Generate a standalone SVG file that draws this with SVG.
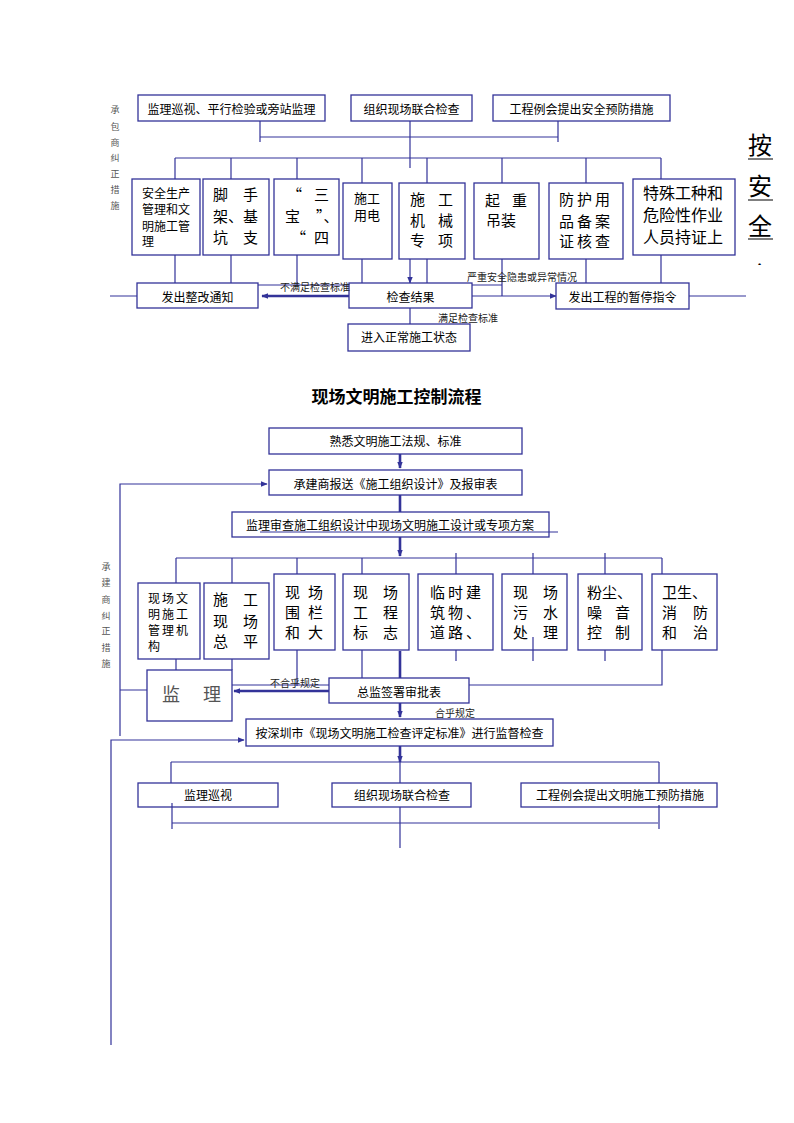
<svg xmlns="http://www.w3.org/2000/svg" width="794" height="1123" viewBox="0 0 794 1123">
<style>
.b{fill:#fff;stroke:#333399;stroke-width:1.3}
.l{stroke:#333399;stroke-width:1.2;fill:none}
.k{stroke:#333399;stroke-width:2.6;fill:none}
text{font-family:"Noto Sans CJK SC","Noto Sans CJK JP",sans-serif;fill:#000}
.c12{font-size:12px;text-anchor:middle}
.s12{font-size:12px}
.s13{font-size:13px}
.s15{font-size:15px}
.s16{font-size:16px}
.lab{font-size:10px;fill:#222}
.v{font-size:9px;fill:#555;text-anchor:middle}
</style>
<defs>
<marker id="a" viewBox="0 0 10 10" refX="9" refY="5" markerWidth="7" markerHeight="7" markerUnits="userSpaceOnUse" orient="auto"><path d="M0,1L10,5L0,9z" fill="#333399"/></marker>
<clipPath id="cr"><rect x="740" y="120" width="50" height="145"/></clipPath>
</defs>

<rect width="794" height="1123" fill="#fff"/>

<!-- ===== Section 1 connectors ===== -->
<g id="connectors1">
<path class="l" d="M260,121V142M558,121V142M260,137H558M410,121V168"/>
<path class="l" d="M175,158H661M175,158V179M231,158V179M297,158V179M362,158V183M427,158V183M502,158V183M586,158V183M661,158V179"/>
<path class="l" d="M175,255V283M231,255V283M297,255V285M362,259V283M427,259V283M502,259V296M586,259V283M661,255V283"/>
<path class="l" d="M410,259V283" marker-end="url(#a)"/>
<path class="l" d="M110,296H137M258,285H349M472,285H502M689,296H746M410,308V324"/>
<path class="k" d="M349,296H262" marker-end="url(#a)"/>
<path class="l" d="M472,296H556" marker-end="url(#a)"/>
</g>

<g id="sideNote1">
<text class="v"><tspan x="115" y="113">承</tspan><tspan x="115" y="130">包</tspan><tspan x="115" y="146">商</tspan><tspan x="115" y="161">纠</tspan><tspan x="115" y="177">正</tspan><tspan x="115" y="193">措</tspan><tspan x="115" y="209">施</tspan></text>
</g>

<g id="n_xunshi"><rect class="b" x="138" y="95" width="187" height="26"/><text class="c12" x="231.5" y="114">监理巡视、平行检验或旁站监理</text></g>
<g id="n_lianhe1"><rect class="b" x="351" y="95" width="121" height="26"/><text class="c12" x="411.5" y="114">组织现场联合检查</text></g>
<g id="n_lihui1"><rect class="b" x="493" y="95" width="177" height="26"/><text class="c12" x="581.5" y="114">工程例会提出安全预防措施</text></g>

<g id="n_aq"><rect class="b" x="132" y="179" width="68" height="76"/>
<text class="s12"><tspan x="142" y="198">安全生产</tspan><tspan x="142" y="214">管理和文</tspan><tspan x="142" y="231">明施工管</tspan><tspan x="142" y="246">理</tspan></text></g>

<g id="n_jsj"><rect class="b" x="203" y="179" width="66" height="76"/>
<text class="s15"><tspan x="213" y="199.5">脚</tspan><tspan x="243" y="199.5">手</tspan><tspan x="213" y="221.5">架</tspan><tspan x="228" y="221.5">、</tspan><tspan x="243" y="221.5">基</tspan><tspan x="213" y="242.5">坑</tspan><tspan x="243" y="242.5">支</tspan></text></g>

<g id="n_sanbao"><rect class="b" x="274" y="179" width="65" height="76"/>
<text class="s15"><tspan x="287" y="199.5">“</tspan><tspan x="314" y="199.5">三</tspan><tspan x="285" y="221.5">宝</tspan><tspan x="316" y="221.5">”、</tspan><tspan x="291" y="242.5">“</tspan><tspan x="314" y="242.5">四</tspan></text></g>

<g id="n_yongdian"><rect class="b" x="343" y="183" width="49" height="76"/>
<text class="s13"><tspan x="354" y="202.5">施工</tspan><tspan x="354" y="219.5">用电</tspan></text></g>

<g id="n_jixie"><rect class="b" x="399" y="183" width="66" height="76"/>
<text class="s15"><tspan x="410" y="205">施</tspan><tspan x="438" y="205">工</tspan><tspan x="410" y="225.5">机</tspan><tspan x="438" y="225.5">械</tspan><tspan x="410" y="246">专</tspan><tspan x="438" y="246">项</tspan></text></g>

<g id="n_diaozhuang"><rect class="b" x="474" y="183" width="65" height="76"/>
<text class="s15"><tspan x="485" y="206">起</tspan><tspan x="512" y="206">重</tspan><tspan x="486" y="226">吊装</tspan></text></g>

<g id="n_fanghu"><rect class="b" x="549" y="183" width="74" height="76"/>
<text class="s15" letter-spacing="3"><tspan x="559" y="204.5">防护用</tspan><tspan x="559" y="226.5">品备案</tspan><tspan x="559" y="246.5">证核查</tspan></text></g>

<g id="n_tezhong"><rect class="b" x="633" y="179" width="102" height="76"/>
<text class="s16"><tspan x="643" y="199">特殊工种和</tspan><tspan x="643" y="221">危险性作业</tspan><tspan x="643" y="243">人员持证上</tspan></text></g>

<g id="sideTitle" clip-path="url(#cr)">
<text style="font-size:24px"><tspan x="748" y="154">按</tspan><tspan x="748" y="195">安</tspan><tspan x="748" y="235">全</tspan><tspan x="748" y="284">文</tspan></text>
<path d="M748,159H773M748,200H773M748,239H773" stroke="#000" stroke-width="1"/>
</g>

<g id="n_zhenggai"><rect class="b" x="137" y="283" width="121" height="25"/><text class="c12" x="197.5" y="302">发出整改通知</text></g>
<g id="n_jieguo"><rect class="b" x="349" y="283" width="123" height="25"/><text class="c12" x="410.5" y="302">检查结果</text></g>
<g id="n_zhengchang"><rect class="b" x="348" y="324" width="122" height="27"/><text class="c12" x="409" y="342">进入正常施工状态</text></g>
<g id="n_zanting"><rect class="b" x="556" y="283" width="133" height="26"/><text class="c12" x="622.5" y="302">发出工程的暂停指令</text></g>

<g id="labels1">
<text class="lab" x="280" y="291">不满足检查标准</text>
<text class="lab" x="438" y="322">满足检查标准</text>
<text class="lab" x="467" y="281">严重安全隐患或异常情况</text>
</g>

<!-- ===== Section 2 ===== -->
<text id="title2" x="396.5" y="403" style="font-size:17px;font-weight:bold;text-anchor:middle">现场文明施工控制流程</text>

<g id="connectors2">
<path class="k" d="M400,454V468" marker-end="url(#a)"/>
<path class="l" d="M120,736V484H267" marker-end="url(#a)"/>
<path class="k" d="M400,495V512"/>
<path class="k" d="M400,537V556" marker-end="url(#a)"/>
<path class="l" d="M176,558H662M176,558V583M232,558V583M297,558V574M362,558V574M456,553V574M533,553V574M605,553V574M662,558V574"/>
<path class="l" d="M176,659V670M232,659V670M297,650V686M362,650V678M456,650V661M533,650V661M605,650V661M662,650V685H469M232,685H329M120,690H147"/>
<path class="k" d="M400,651V678M329,691H234" marker-end="url(#a)"/>
<path class="k" d="M400,703V717" marker-end="url(#a)"/>
<path class="l" d="M111,1045V740H244" marker-end="url(#a)"/>
<path class="k" d="M400,746V762" marker-end="url(#a)"/>
<path class="l" d="M171,762H659M171,762V783M400,762V783M659,762V783"/>
<path class="l" d="M172,807V829M400,807V848M659,807V829M172,823H658"/>
</g>

<g id="sideNote2">
<text class="v"><tspan x="106" y="570">承</tspan><tspan x="106" y="586">建</tspan><tspan x="106" y="603">商</tspan><tspan x="106" y="619">纠</tspan><tspan x="106" y="634">正</tspan><tspan x="106" y="651">措</tspan><tspan x="106" y="667">施</tspan></text>
</g>

<g id="n_shuxi"><rect class="b" x="269" y="428" width="253" height="26"/><text class="c12" x="395.5" y="446">熟悉文明施工法规、标准</text></g>
<g id="n_baosong"><rect class="b" x="269" y="470" width="253" height="25"/><text class="c12" x="395.5" y="489">承建商报送《施工组织设计》及报审表</text></g>
<g id="n_shencha"><rect class="b" x="232" y="512" width="317" height="25"/><text class="c12" x="390" y="530">监理审查施工组织设计中现场文明施工设计或专项方案</text></g>
<path class="l" d="M260,532H558"/>

<g id="m_jigou"><rect class="b" x="138" y="583" width="62" height="76"/>
<text class="s12" letter-spacing="2"><tspan x="148" y="603">现场文</tspan><tspan x="148" y="619">明施工</tspan><tspan x="148" y="635">管理机</tspan><tspan x="148" y="651">构</tspan></text></g>

<g id="m_zongping"><rect class="b" x="204" y="583" width="65" height="76"/>
<text class="s15"><tspan x="213" y="604.5">施</tspan><tspan x="243" y="604.5">工</tspan><tspan x="213" y="626.5">现</tspan><tspan x="243" y="626.5">场</tspan><tspan x="213" y="646.5">总</tspan><tspan x="243" y="646.5">平</tspan></text></g>

<g id="m_weilan"><rect class="b" x="274" y="574" width="61" height="76"/>
<text class="s15"><tspan x="285" y="597.5">现</tspan><tspan x="308" y="597.5">场</tspan><tspan x="285" y="617.5">围</tspan><tspan x="308" y="617.5">栏</tspan><tspan x="285" y="637.5">和</tspan><tspan x="308" y="637.5">大</tspan></text></g>

<g id="m_biaozhi"><rect class="b" x="343" y="574" width="66" height="76"/>
<text class="s15"><tspan x="353" y="597.5">现</tspan><tspan x="383" y="597.5">场</tspan><tspan x="353" y="617.5">工</tspan><tspan x="383" y="617.5">程</tspan><tspan x="353" y="637.5">标</tspan><tspan x="383" y="637.5">志</tspan></text></g>

<g id="m_linshi"><rect class="b" x="418" y="574" width="75" height="76"/>
<text class="s15" letter-spacing="3"><tspan x="430" y="597.5">临时建</tspan><tspan x="430" y="617.5">筑物、</tspan><tspan x="430" y="637.5">道路、</tspan></text></g>

<g id="m_wushui"><rect class="b" x="502" y="574" width="65" height="76"/>
<text class="s15"><tspan x="513" y="597.5">现</tspan><tspan x="543" y="597.5">场</tspan><tspan x="513" y="617.5">污</tspan><tspan x="543" y="617.5">水</tspan><tspan x="513" y="637.5">处</tspan><tspan x="543" y="637.5">理</tspan></text></g>

<g id="m_fenchen"><rect class="b" x="578" y="574" width="64" height="76"/>
<text class="s15"><tspan x="587" y="597.5">粉尘、</tspan><tspan x="587" y="617.5">噪</tspan><tspan x="615" y="617.5">音</tspan><tspan x="587" y="637.5">控</tspan><tspan x="615" y="637.5">制</tspan></text></g>

<g id="m_weisheng"><rect class="b" x="652" y="574" width="65" height="76"/>
<text class="s15"><tspan x="662" y="597.5">卫生、</tspan><tspan x="662" y="617.5">消</tspan><tspan x="693" y="617.5">防</tspan><tspan x="662" y="637.5">和</tspan><tspan x="693" y="637.5">治</tspan></text></g>

<path class="l" d="M533,637V650"/>

<g id="m_jianli"><rect class="b" x="147" y="670" width="85" height="51"/>
<text style="font-size:18px;fill:#555"><tspan x="162" y="701">监</tspan><tspan x="203" y="701">理</tspan></text></g>

<g id="m_zongjian"><rect class="b" x="329" y="678" width="140" height="25"/><text class="c12" x="399" y="697">总监签署审批表</text></g>
<g id="m_shenzhen"><rect class="b" x="246" y="719" width="307" height="27"/><text class="c12" x="399.5" y="738">按深圳市《现场文明施工检查评定标准》进行监督检查</text></g>

<g id="labels2">
<text class="lab" x="270" y="687">不合乎规定</text>
<text class="lab" x="435" y="717">合乎规定</text>
</g>

<g id="b_xunshi"><rect class="b" x="138" y="783" width="140" height="24"/><text class="c12" x="208" y="800">监理巡视</text></g>
<g id="b_lianhe"><rect class="b" x="332" y="783" width="139" height="24"/><text class="c12" x="402" y="800">组织现场联合检查</text></g>
<g id="b_lihui"><rect class="b" x="521" y="783" width="196" height="24"/><text class="c12" x="620" y="800">工程例会提出文明施工预防措施</text></g>
<path class="l" d="M172,803V807M659,805V807"/>
</svg>
